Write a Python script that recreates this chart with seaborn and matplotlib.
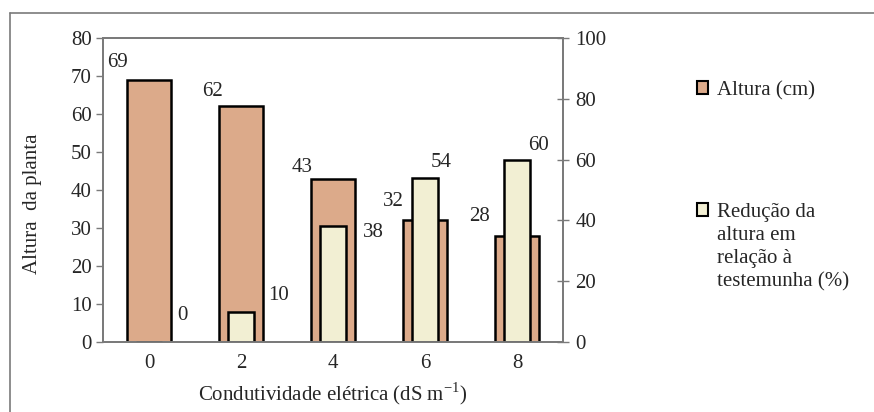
import matplotlib
matplotlib.use("Agg")
import matplotlib.pyplot as plt
import seaborn as sns
import pandas as pd
from matplotlib.lines import Line2D
from matplotlib.patches import Patch

# ---- data ----
condutividade = ["0", "2", "4", "6", "8"]
altura = [69, 62, 43, 32, 28]          # Altura (cm), left axis
reducao = [0, 10, 38, 54, 60]          # Redução (%), right axis
left_ticks = [0, 10, 20, 30, 40, 50, 60, 70, 80]
right_ticks = [0, 20, 40, 60, 80, 100]

# ---- label offsets (pixels) ----
alt_off = [(-10, 17), (-7, 15), (-9, 11), (-10, 19), (-16, 19)]
red_off = [(21, 27), (25, 16), (27, -6), (3, 15), (9, 14)]

sns.set_style("white")
plt.rcParams["font.family"] = ["Liberation Serif", "DejaVu Serif"]
plt.rcParams["mathtext.fontset"] = "custom"
plt.rcParams["mathtext.rm"] = "Liberation Serif"

BROWN = "#DCAA8A"
CREAM = "#F2EFD3"
GREY = "#7a7a7a"
FS = 15

fig = plt.figure(figsize=(8.74, 4.12), dpi=100)
ax = fig.add_axes([103 / 874, 1 - 342 / 412, (563 - 103) / 874, (342 - 38) / 412])

df = pd.DataFrame({"cond": condutividade, "altura": altura, "reducao": reducao})

sns.barplot(data=df, x="cond", y="altura", color=BROWN, saturation=1,
            edgecolor="black", linewidth=1.8, width=0.47, ax=ax)
ax.set_ylim(0, 80)
ax.set_yticks(left_ticks)
ax.set_xlim(-0.5, 4.5)

ax2 = ax.twinx()
sns.barplot(data=df, x="cond", y="reducao", color=CREAM, saturation=1,
            edgecolor="black", linewidth=1.8, width=0.28, ax=ax2)
ax2.set_ylim(0, 100)
ax2.set_yticks(right_ticks)
ax2.set_xlim(-0.5, 4.5)

for a in (ax, ax2):
    for s in a.spines.values():
        s.set_color(GREY)
        s.set_linewidth(1.3)
    a.set_ylabel("")
    a.set_xlabel("")

ax.tick_params(axis="y", direction="out", length=5, width=1, color=GREY,
               labelsize=FS, pad=3)
ax.tick_params(axis="x", length=0, labelsize=FS, pad=9)
ax2.tick_params(axis="y", direction="inout", length=8, width=1, color=GREY,
                labelsize=FS, pad=5)

ax.set_xlabel("Condutividade elétrica (dS m$^{-1}$)", fontsize=FS, labelpad=5)
ax.set_ylabel("Altura  da planta", fontsize=FS)
ax.yaxis.set_label_coords((42 - 103) / 460, (342 - 204) / 304)

# data labels
for i, p in enumerate(ax.containers[0]):
    ax.annotate(str(altura[i]), xy=(p.get_x(), p.get_height()),
                xytext=alt_off[i], textcoords="offset pixels",
                ha="center", va="center", fontsize=FS)
for i, p in enumerate(ax2.containers[0]):
    ax2.annotate(str(reducao[i]), xy=(p.get_x() + p.get_width(), p.get_height()),
                 xytext=red_off[i], textcoords="offset pixels",
                 ha="center", va="center", fontsize=FS)

# legend
h1 = Patch(facecolor=BROWN, edgecolor="black", linewidth=1.5)
h2 = Patch(facecolor=CREAM, edgecolor="black", linewidth=1.5)
leg_kw = dict(loc="upper left", frameon=False, fontsize=FS, handlelength=0.55,
              handleheight=0.55, handletextpad=0.4, borderpad=0,
              borderaxespad=0, labelspacing=0)
leg1 = fig.legend([h1], ["Altura (cm)"],
                  bbox_to_anchor=(697 / 874, 1 - 81 / 412), **leg_kw)
leg2 = fig.legend([h2], ["Redução da\naltura em\nrelação à\ntestemunha (%)"],
                  bbox_to_anchor=(697 / 874, 1 - 203 / 412), **leg_kw)
for lg in (leg1, leg2):
    for col in lg._legend_handle_box.get_children():
        for item in col.get_children():
            item.align = "top"
    for t in lg.get_texts():
        t.set_linespacing(1.3)

# outer frame (top and left edges visible)
fig.add_artist(Line2D([10 / 874, 10 / 874], [0, 1 - 13 / 412],
                      transform=fig.transFigure, color=GREY, lw=1.2))
fig.add_artist(Line2D([10 / 874, 1], [1 - 13 / 412, 1 - 13 / 412],
                      transform=fig.transFigure, color=GREY, lw=1.2))

fig.savefig("out.png", dpi=100, facecolor="white")
